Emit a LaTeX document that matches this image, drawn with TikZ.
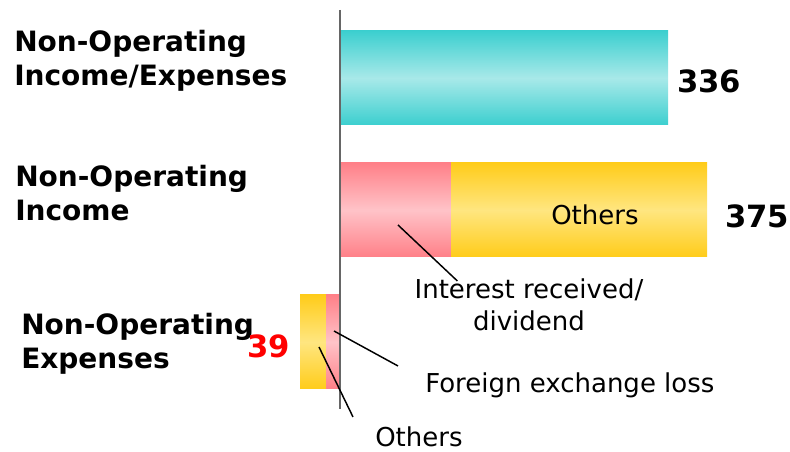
\documentclass[tikz,border=0pt]{standalone}
\usepackage{fontspec}
\setmainfont{DejaVu Sans}
\usetikzlibrary{positioning}
\definecolor{cyanedge}{HTML}{3CCFCF}
\definecolor{cyanmid}{HTML}{A8E9E9}
\definecolor{pinkedge}{HTML}{FF8088}
\definecolor{pinkmid}{HTML}{FFC3C8}
\definecolor{yelledge}{HTML}{FFCC1A}
\definecolor{yellmid}{HTML}{FFE680}
\definecolor{axisgray}{HTML}{666666}

\begin{document}
\begin{tikzpicture}[x=0.75pt, y=-0.75pt,
  catlabel/.style={anchor=base west, align=left, inner sep=0pt,
    font=\fontsize{21}{25.5}\selectfont\bfseries},
  total/.style={anchor=base west, inner sep=0pt,
    font=\fontsize{23}{27}\selectfont\bfseries},
  note/.style={inner sep=0pt, font=\fontsize{19.5}{24}\selectfont},
  cyanbar/.style={top color=cyanedge, bottom color=cyanedge, middle color=cyanmid},
  pinkbar/.style={top color=pinkedge, bottom color=pinkedge, middle color=pinkmid},
  yellbar/.style={top color=yelledge, bottom color=yelledge, middle color=yellmid},
  leader/.style={line width=1.1pt}]
  \useasboundingbox (0,0) rectangle (790,452);
  %\draw[step=50,gray,very thin] (0,0) grid (790,452);

  % bars
  \shade[cyanbar] (340,31) rectangle (668,125);
  \shade[pinkbar] (340,163) rectangle (451,257);
  \shade[yellbar] (451,163) rectangle (707,257);
  \shade[yellbar] (300,295) rectangle (326,389);
  \shade[pinkbar] (326,295) rectangle (340,389);
  \draw[axisgray, line width=1.2pt] (340,10) -- (340,409);

  % category labels (base = last line)
  \node[catlabel] (netlbl) at (14,86) {Non-Operating\\Income/Expenses};
  \node[catlabel] (inclbl) at (15,221) {Non-Operating\\Income};
  \node[catlabel] (explbl) at (21,369) {Non-Operating\\Expenses};

  % totals
  \node[total] (nettot) at (677,93) {336};
  \node[total] (inctot) at (725,228) {375};
  \node[total, red] (exptot) at (247,358) {39};

  % breakdown labels
  \node[note, anchor=base west] (othin) at (551,225) {Others};
  \node[note, anchor=base, align=center] (intlbl) at (529,331) {Interest received/\\dividend};
  \node[note, anchor=base west] (fxlbl) at (425,393) {Foreign exchange loss};
  \node[note, anchor=base west] (othlbl) at (375,447) {Others};

  \coordinate (intpt) at (398,225);
  \coordinate (fxpt) at (334,331);
  \coordinate (othpt) at (319,347);
  \draw[leader] (intpt) -- ([shift={(43,2)}]intlbl.north west);
  \draw[leader] (fxpt) -- ([shift={(-27,-7)}]fxlbl.north west);
  \draw[leader] (othpt) -- ([shift={(-22,-10)}]othlbl.north west);
\end{tikzpicture}
\end{document}
